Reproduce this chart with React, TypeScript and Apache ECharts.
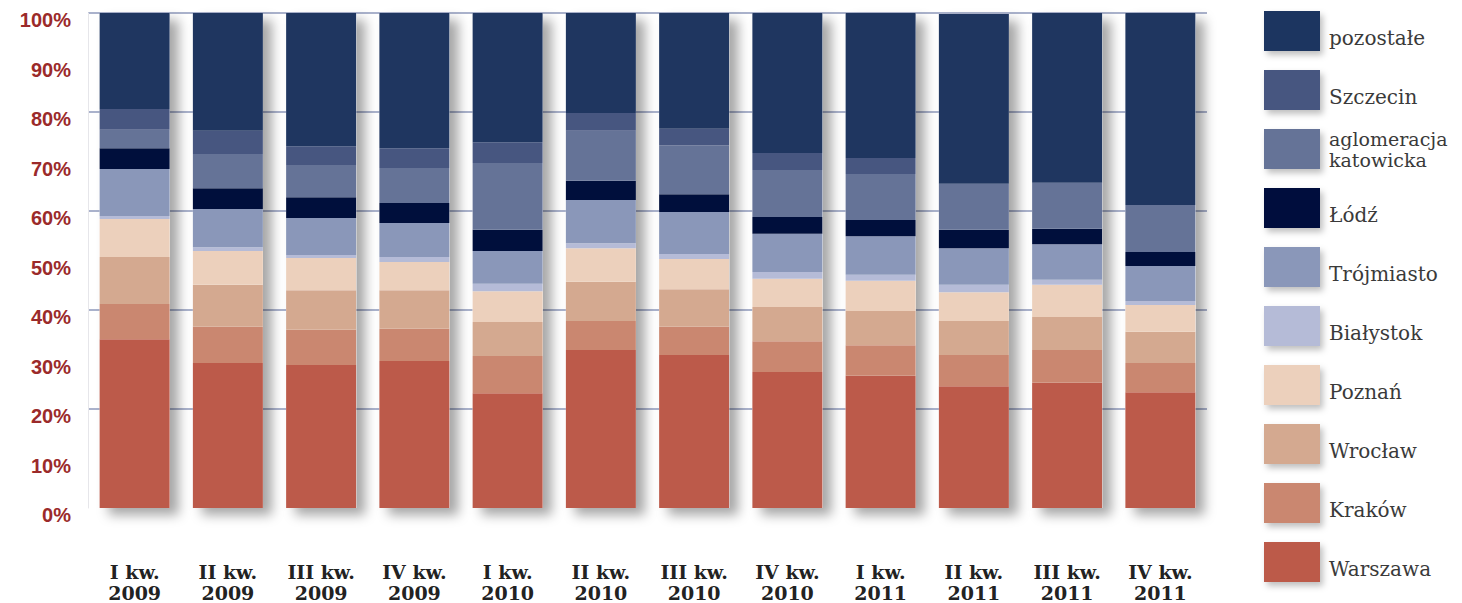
import React, { useEffect, useRef } from "react";
import * as echarts from "echarts";

const categories = [
  "I kw.\n2009", "II kw.\n2009", "III kw.\n2009", "IV kw.\n2009",
  "I kw.\n2010", "II kw.\n2010", "III kw.\n2010", "IV kw.\n2010",
  "I kw.\n2011", "II kw.\n2011", "III kw.\n2011", "IV kw.\n2011",
];

const warszawa = [34.1, 29.3, 28.9, 29.7, 23.2, 31.9, 30.9, 27.5, 26.7, 24.6, 25.3, 23.4];
const krakow = [7.1, 7.3, 7.1, 6.5, 7.5, 5.9, 5.7, 6.2, 6.2, 6.3, 6.6, 5.9];
const wroclaw = [9.5, 8.5, 8.0, 7.8, 6.9, 7.9, 7.6, 6.9, 6.9, 6.9, 6.7, 6.3];
const poznan = [7.7, 6.8, 6.5, 5.7, 6.2, 6.8, 6.1, 5.7, 6.1, 5.8, 6.5, 5.4];
const bialystok = [0.6, 0.8, 0.6, 1.0, 1.5, 1.0, 1.0, 1.4, 1.2, 1.5, 1.0, 0.8];
const trojmiasto = [9.5, 7.7, 7.5, 6.9, 6.6, 8.7, 8.5, 7.7, 7.8, 7.4, 7.2, 7.1];
const lodz = [4.2, 4.2, 4.2, 4.0, 4.3, 3.9, 3.6, 3.4, 3.3, 3.7, 3.1, 2.8];
const aglomeracja = [3.7, 6.9, 6.5, 7.1, 13.5, 10.1, 9.9, 9.5, 9.3, 9.3, 9.3, 9.5];
const szczecin = [4.2, 4.7, 3.8, 4.0, 4.2, 3.6, 3.3, 3.4, 3.2, 0, 0, 0];
const pozostale = [19.4, 23.8, 26.9, 27.3, 26.1, 20.2, 23.4, 28.3, 29.3, 34.3, 34.3, 38.8];

const yTicks = [0, 10, 20, 30, 40, 50, 60, 70, 80, 90, 100];

const seriesDefs = [
  { name: "Warszawa", data: warszawa, color: "#bc5a4a" },
  { name: "Kraków", data: krakow, color: "#ca8770" },
  { name: "Wrocław", data: wroclaw, color: "#d4a990" },
  { name: "Poznań", data: poznan, color: "#ecd0bc" },
  { name: "Białystok", data: bialystok, color: "#b5bbd7" },
  { name: "Trójmiasto", data: trojmiasto, color: "#8a97b9" },
  { name: "Łódź", data: lodz, color: "#000f3c" },
  { name: "aglomeracja\nkatowicka", data: aglomeracja, color: "#657397" },
  { name: "Szczecin", data: szczecin, color: "#475680" },
  { name: "pozostałe", data: pozostale, color: "#1f3660" },
];

export default function App() {
  const ref = useRef<HTMLDivElement>(null);
  useEffect(() => {
    if (!ref.current) return;
    const chart = echarts.init(ref.current, undefined, { renderer: "svg" });
    const legendOrder = seriesDefs.map((s) => s.name).reverse();
    const totals = categories.map((_, i) =>
      seriesDefs.reduce((acc, s) => acc + s.data[i], 0)
    );
    chart.setOption({
      animation: false,
      backgroundColor: "#ffffff",
      grid: { left: 88, right: 255, top: 13, bottom: 95 },
      legend: {
        orient: "vertical",
        left: 1259,
        top: 6,
        itemWidth: 56,
        itemHeight: 40,
        itemGap: 19,
        data: legendOrder,
        selectedMode: false,
        icon: "rect",
        itemStyle: {
          shadowColor: "rgba(0,0,0,0.25)",
          shadowBlur: 6,
          shadowOffsetX: 3,
          shadowOffsetY: 4,
        },
        formatter: (name: string) =>
          name.indexOf("\n") >= 0
            ? name.split("\n").map((l) => "{m|" + l + "}").join("\n")
            : "{s|" + name + "}",
        textStyle: {
          fontFamily: "DejaVu Serif",
          fontSize: 19,
          color: "#3a3a3a",
          padding: [0, 0, 0, 4],
          rich: {
            s: { fontFamily: "DejaVu Serif", fontSize: 20, color: "#3a3a3a", lineHeight: 22, padding: [14, 0, 0, 0] },
            m: { fontFamily: "DejaVu Serif", fontSize: 19, color: "#3a3a3a", lineHeight: 21 },
          },
        },
      },
      xAxis: {
        type: "category",
        data: categories,
        axisLine: { show: false },
        axisTick: { show: false },
        axisLabel: {
          margin: 53,
          fontFamily: "DejaVu Serif",
          fontWeight: "bold",
          fontSize: 19,
          lineHeight: 21,
          color: "#222222",
        },
      },
      yAxis: [
        {
          type: "value",
          min: 0,
          max: 100,
          interval: 10,
          axisLine: { show: true, lineStyle: { color: "#e6e6ea", width: 1 } },
          axisTick: { show: false },
          splitLine: { show: false },
          axisLabel: {
            formatter: (v: number) => (yTicks.indexOf(v) >= 0 ? v + "%" : ""),
            margin: 17,
            verticalAlign: "top",
            lineHeight: 14,
            fontFamily: "Liberation Sans",
            fontWeight: "bold",
            fontSize: 20,
            color: "#9b2a2a",
          },
        },
        {
          type: "value",
          min: 0,
          max: 100,
          interval: 20,
          axisLine: { show: false },
          axisTick: { show: false },
          axisLabel: { show: false },
          splitLine: {
            show: true,
            lineStyle: { color: ["rgba(0,0,0,0)", "#aab2cc", "#aab2cc", "#aab2cc", "#aab2cc", "#aab2cc"], width: 2 },
          },
        },
      ],
      series: [
        {
          name: "__shadow",
          type: "bar",
          barWidth: 70,
          barGap: "-100%",
          z: 1,
          data: totals,
          silent: true,
          itemStyle: {
            color: "#ffffff",
            shadowColor: "rgba(0,0,0,0.35)",
            shadowBlur: 12,
            shadowOffsetX: 9,
            shadowOffsetY: 7,
          },
        },
        ...seriesDefs.map((s) => ({
          name: s.name,
          type: "bar",
          stack: "total",
          barWidth: 70,
          barGap: "-100%",
          z: 2,
          data: s.data,
          itemStyle: { color: s.color },
        })),
      ],
    });
    return () => chart.dispose();
  }, []);
  return <div ref={ref} style={{ width: 1462, height: 603, position: "absolute", left: 0, top: 0 }} />;
}
